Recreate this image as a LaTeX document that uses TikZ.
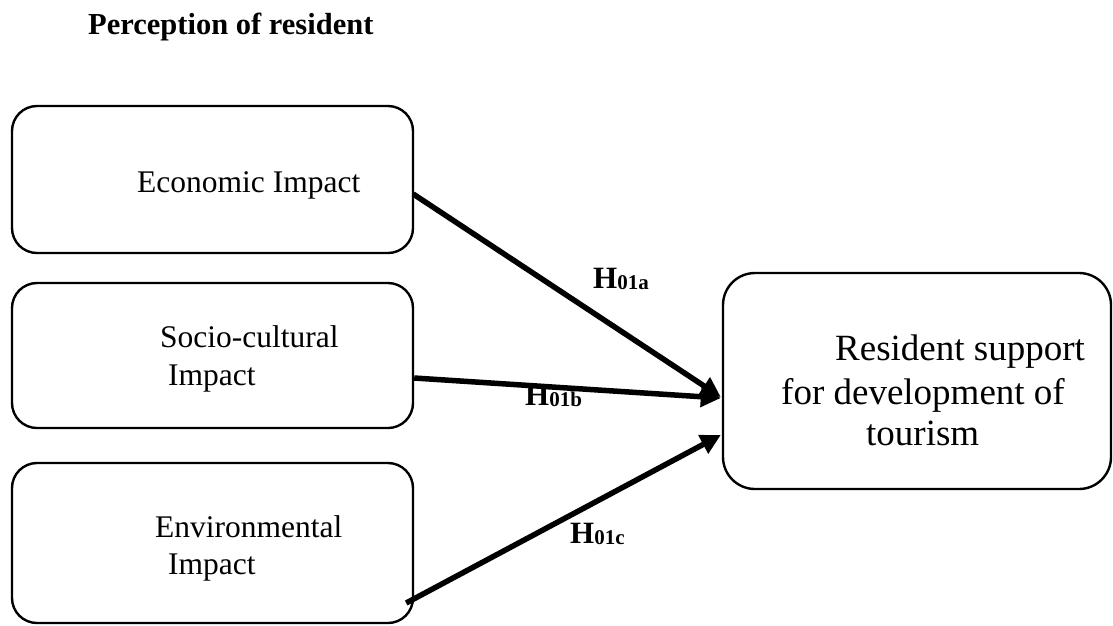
\documentclass[tikz,border=0pt]{standalone}
\usepackage{fontspec}
\setmainfont{Liberation Serif}
\usetikzlibrary{arrows.meta,calc}

\tikzset{
  box/.style={draw=black, line width=2.4pt, rounded corners=25pt, inner sep=0pt},
  bigbox/.style={box, rounded corners=32pt},
  txt/.style={anchor=base west, inner sep=0pt, font=\fontsize{31.5}{38}\selectfont},
  restxt/.style={anchor=base west, inner sep=0pt, font=\fontsize{37}{44}\selectfont},
  hyp/.style={anchor=base west, inner sep=0pt, font=\bfseries\fontsize{31}{36}\selectfont},
  link/.style={line width=5.5pt, -{Triangle[length=20pt,width=20pt]}},
}
\newcommand{\hlab}[1]{H{\fontsize{21}{24}\selectfont\raisebox{-1.5pt}{#1}}}

\begin{document}
\begin{tikzpicture}[x=1pt, y=-1pt]
  \useasboundingbox (0,0) rectangle (1113,625);

  % heading
  \node[anchor=base west, inner sep=0pt, font=\bfseries\fontsize{30.5}{36}\selectfont] (title) at (88,34) {Perception of resident};

  % perception boxes
  \node[box, minimum width=401pt, minimum height=147pt] (eco) at (212.5,179.5) {};
  \node[box, minimum width=401pt, minimum height=145pt] (soc) at (212.5,355.5) {};
  \node[box, minimum width=401pt, minimum height=160pt] (env) at (212.5,543) {};

  % outcome box
  \node[bigbox, minimum width=388pt, minimum height=216pt] (res) at (917,381) {};

  % box texts
  \node[txt] (ecot) at (137,192) {Economic Impact};
  \node[txt] (soct1) at (160,347) {Socio-cultural};
  \node[txt] (soct2) at (168,385) {Impact};
  \node[txt] (envt1) at (155,537) {Environmental};
  \node[txt] (envt2) at (168,574) {Impact};
  \node[restxt] (rest1) at (835,360) {Resident support};
  \node[restxt] (rest2) at (781,404) {for development of};
  \node[restxt] (rest3) at (866,445) {tourism};

  % hypotheses
  \draw[link] ($(eco.east)+(-1,14.5)$) -- ($(res.west)+(-1,16)$);
  \draw[link] ($(soc.east)+(0,22.5)$) -- ($(res.west)+(-1,17)$);
  \draw[link] ($(env.east)+(-8,60)$) -- ($(res.west)+(-1,54)$);

  \node[hyp] (ha) at (593,288) {\hlab{01a}};
  \node[hyp] (hb) at (525,405) {\hlab{01b}};
  \node[hyp] (hc) at (570,543) {\hlab{01c}};
\end{tikzpicture}
\end{document}
